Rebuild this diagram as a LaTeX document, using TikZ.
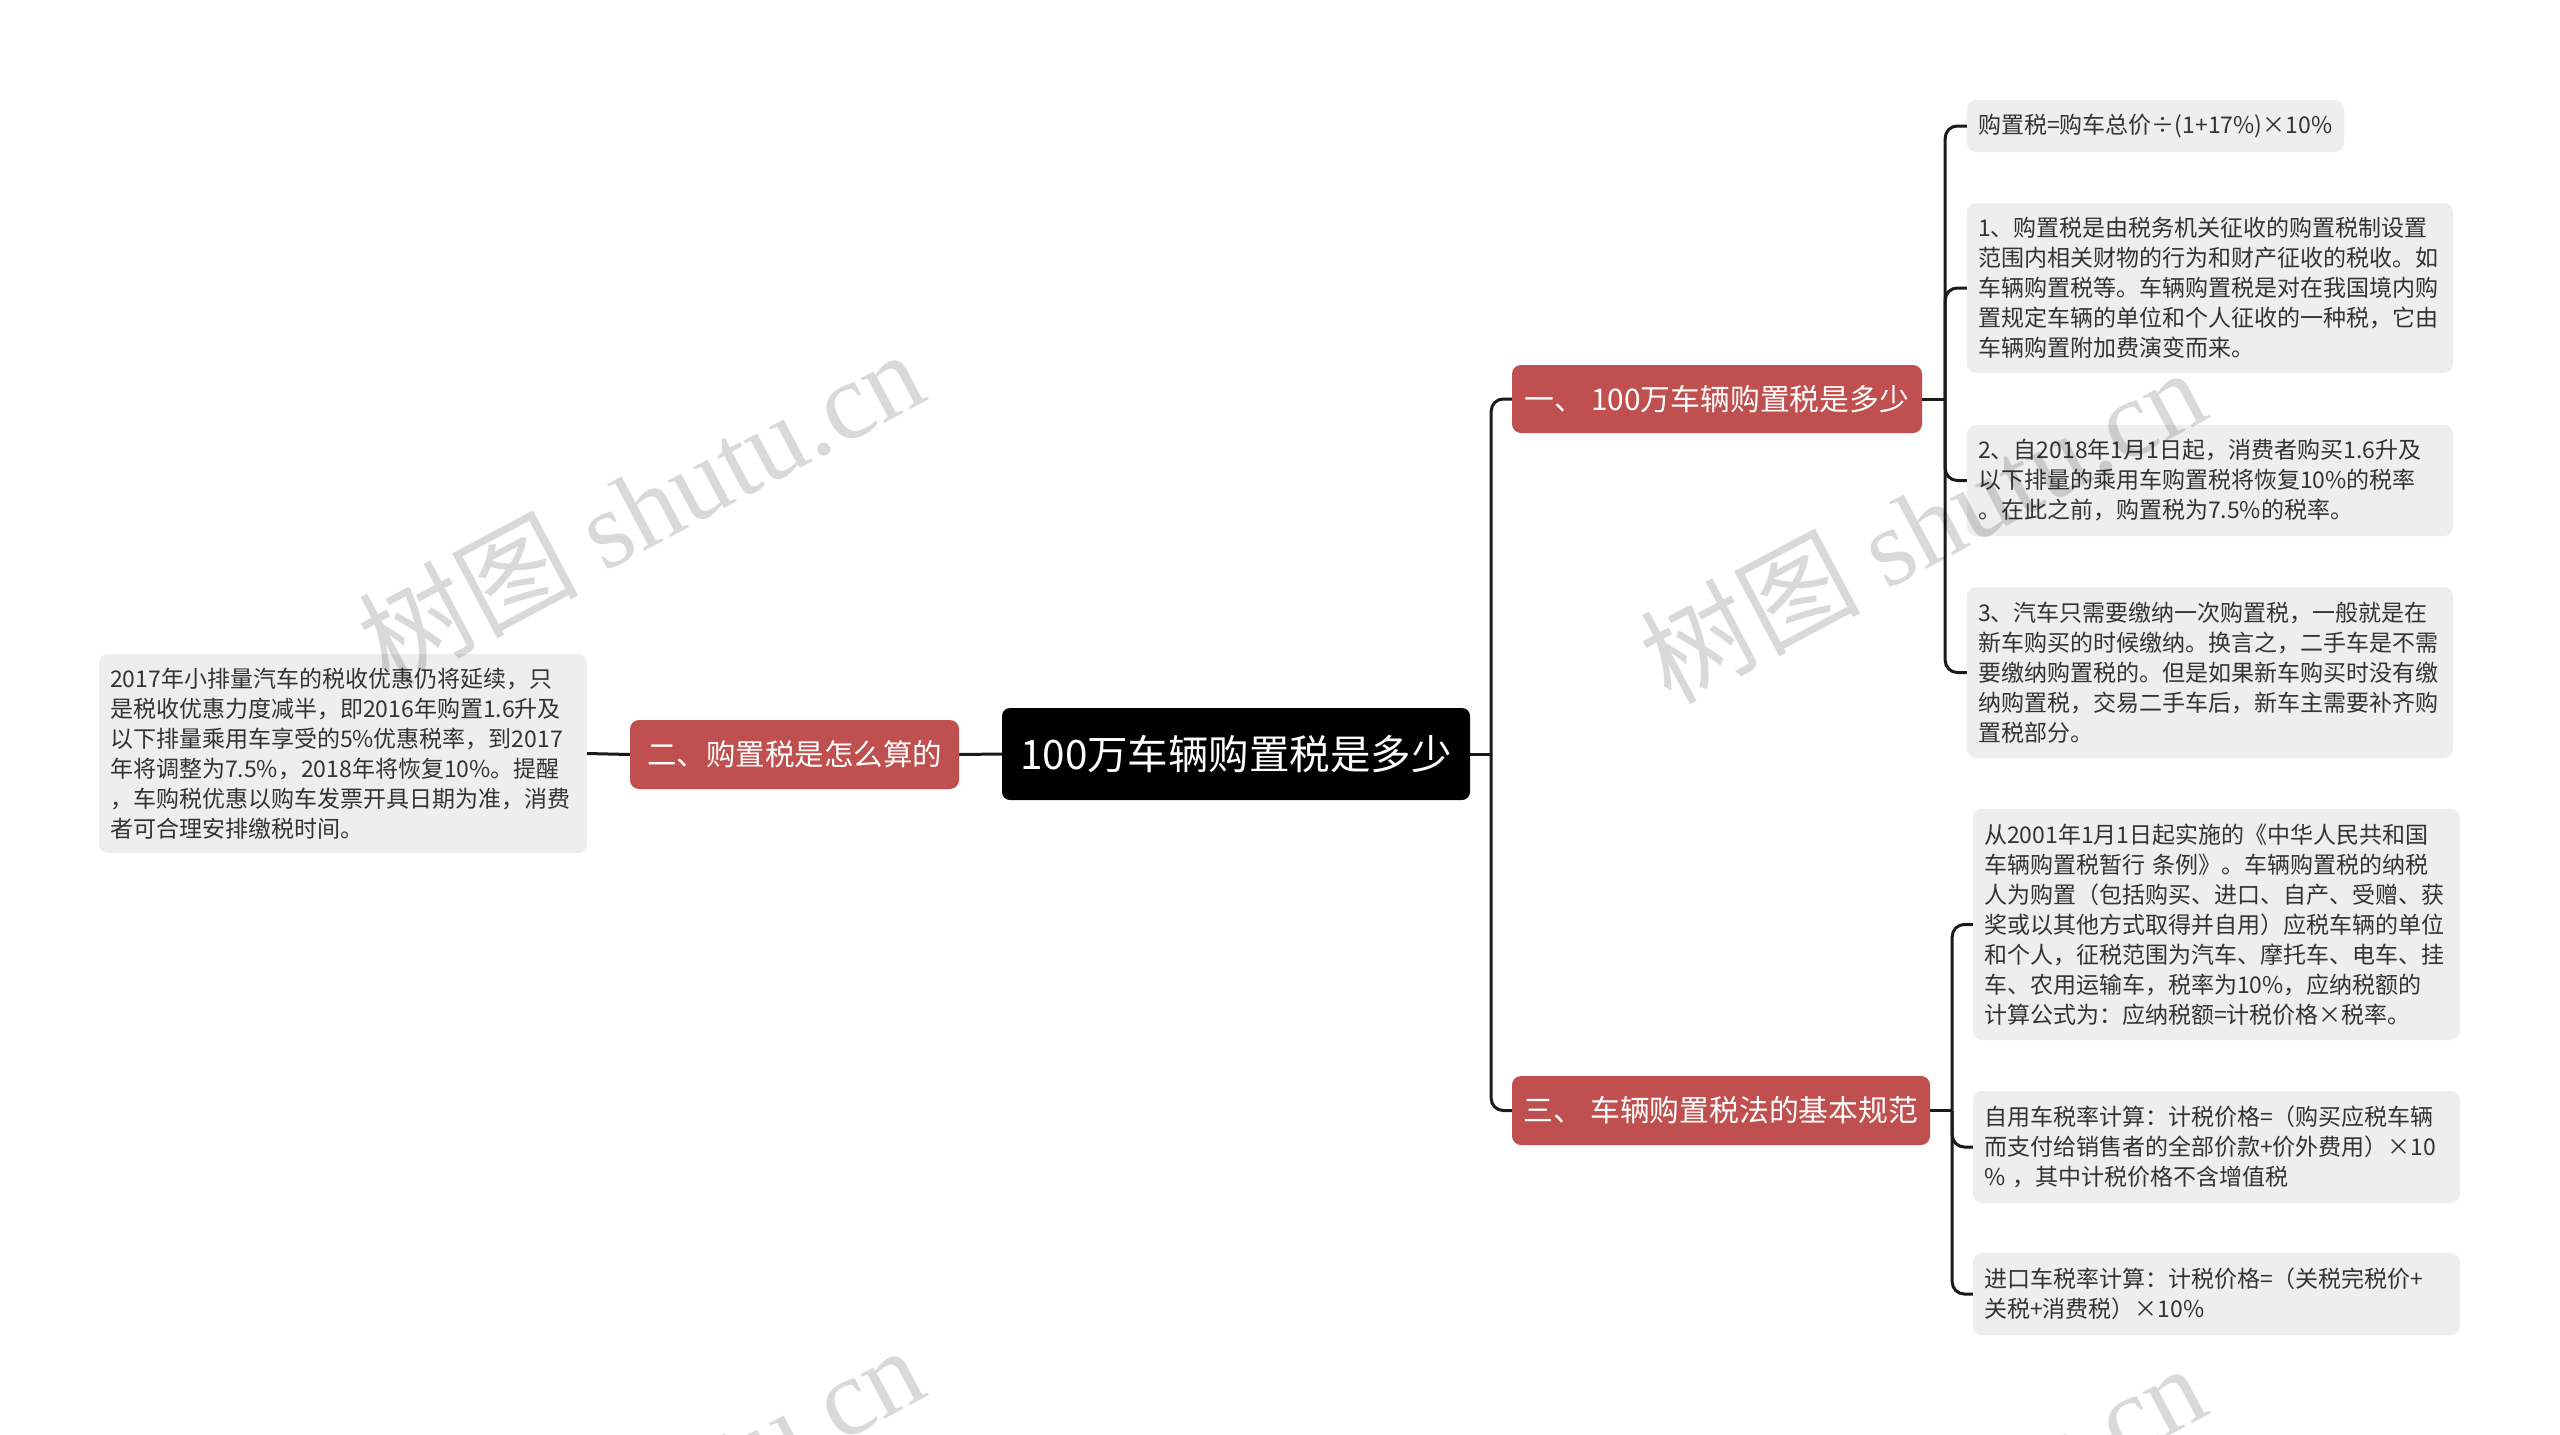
\documentclass[tikz,border=0pt]{standalone}
\usepackage{fontspec}
\setmainfont{Noto Sans CJK SC}
\newfontfamily\wmserif{Liberation Serif}
\definecolor{branchred}{HTML}{C0504F}
\definecolor{leafgray}{HTML}{EEEEEE}
\definecolor{linecol}{HTML}{1A1A1A}
\definecolor{leaftext}{HTML}{333333}
\begin{document}
\begin{tikzpicture}[x=1pt,y=-1pt,
  leaf/.style={fill=leafgray, rounded corners=9pt, inner xsep=11pt, inner ysep=0pt,
    align=left, font=\fontsize{23}{30}\selectfont, text=leaftext},
  branch/.style={fill=branchred, rounded corners=9pt, inner sep=0pt, text=white},
  rootbox/.style={fill=black, rounded corners=8pt, inner sep=0pt, text=white,
    font=\fontsize{40.5}{46}\selectfont},
  conn/.style={draw=linecol, line width=3pt, rounded corners=12pt},
  wm/.style={rotate=28, text=black, text opacity=0.15, inner sep=0pt}
]
\useasboundingbox (0,0) rectangle (2560,1435);
\fill[white] (0,0) rectangle (2560,1435);

% root
\node[rootbox, minimum width=468pt, minimum height=92pt] (root) at (1236,754) {100万车辆购置税是多少};

% branches
\node[branch, minimum width=410pt, minimum height=68pt, font=\fontsize{29.8}{34}\selectfont] (b1) at (1717,399) {一、 100万车辆购置税是多少};
\node[branch, minimum width=329pt, minimum height=69pt, font=\fontsize{29.5}{34}\selectfont] (b2) at (794.5,754.5) {二、购置税是怎么算的};
\node[branch, minimum width=418pt, minimum height=69pt, font=\fontsize{29.8}{34}\selectfont] (b3) at (1721,1110.5) {三、 车辆购置税法的基本规范};

% left leaf
\node[leaf, text width=466pt, minimum height=199pt] (ll) at (343,753.5) {2017年小排量汽车的税收优惠仍将延续，只\\是税收优惠力度减半，即2016年购置1.6升及\\以下排量乘用车享受的5\%优惠税率，到2017\\年将调整为7.5\%，2018年将恢复10\%。提醒\\，车购税优惠以购车发票开具日期为准，消费\\者可合理安排缴税时间。};

% leaves of branch 1
\node[leaf, text width=355pt, minimum height=52pt] (la) at (2155.5,126) {购置税=购车总价÷(1+17\%)×10\%};
\node[leaf, text width=464pt, minimum height=170pt] (lb) at (2210,288) {1、购置税是由税务机关征收的购置税制设置\\范围内相关财物的行为和财产征收的税收。如\\车辆购置税等。车辆购置税是对在我国境内购\\置规定车辆的单位和个人征收的一种税，它由\\车辆购置附加费演变而来。};
\node[leaf, text width=464pt, minimum height=111pt] (lc) at (2210,480.5) {2、自2018年1月1日起，消费者购买1.6升及\\以下排量的乘用车购置税将恢复10\%的税率\\。在此之前，购置税为7.5\%的税率。};
\node[leaf, text width=464pt, minimum height=171pt] (ld) at (2210,672.5) {3、汽车只需要缴纳一次购置税，一般就是在\\新车购买的时候缴纳。换言之，二手车是不需\\要缴纳购置税的。但是如果新车购买时没有缴\\纳购置税，交易二手车后，新车主需要补齐购\\置税部分。};

% leaves of branch 3
\node[leaf, text width=465pt, minimum height=231pt] (le) at (2216.5,924.5) {从2001年1月1日起实施的《中华人民共和国\\车辆购置税暂行 条例》。车辆购置税的纳税\\人为购置（包括购买、进口、自产、受赠、获\\奖或以其他方式取得并自用）应税车辆的单位\\和个人，征税范围为汽车、摩托车、电车、挂\\车、农用运输车，税率为10\%，应纳税额的\\计算公式为：应纳税额=计税价格×税率。};
\node[leaf, text width=465pt, minimum height=112pt] (lf) at (2216.5,1147) {自用车税率计算：计税价格=（购买应税车辆\\而支付给销售者的全部价款+价外费用）×10\\\% ，其中计税价格不含增值税};
\node[leaf, text width=465pt, minimum height=82pt] (lg) at (2216.5,1294) {进口车税率计算：计税价格=（关税完税价+\\关税+消费税）×10\%};

% connectors
\coordinate (rj) at ([xshift=21pt]root.east);
\draw[conn] (root.east) -- (rj);
\draw[conn] (rj) |- (b1.west);
\draw[conn] (rj) |- (b3.west);
\draw[conn] (root.west) -- (b2.east);
\draw[conn] (b2.west) -- (ll.east);

\coordinate (j1) at ([xshift=23pt]b1.east);
\draw[conn] (b1.east) -- (j1);
\draw[conn] (j1) |- (la.west);
\draw[conn] (j1) |- (lb.west);
\draw[conn] (j1) |- (lc.west);
\draw[conn] (j1) |- (ld.west);

\coordinate (j3) at ([xshift=22pt]b3.east);
\draw[conn] (b3.east) -- (j3);
\draw[conn] (j3) |- (le.west);
\draw[conn] (j3) |- (lf.west);
\draw[conn] (j3) |- (lg.west);

% watermarks
\begin{scope}
\clip (0,0) rectangle (2560,1435);
\node[wm, font=\fontsize{110}{120}\selectfont] (w1) at (640,506) {树图 {\wmserif shutu.cn}};
\node[wm, font=\fontsize{110}{120}\selectfont] (w2) at (1922,524) {树图 {\wmserif shutu.cn}};
\node[wm, font=\fontsize{110}{120}\selectfont] (w3) at (640,1502) {树图 {\wmserif shutu.cn}};
\node[wm, font=\fontsize{110}{120}\selectfont] (w4) at (1922,1520) {树图 {\wmserif shutu.cn}};
\end{scope}
\end{tikzpicture}
\end{document}
